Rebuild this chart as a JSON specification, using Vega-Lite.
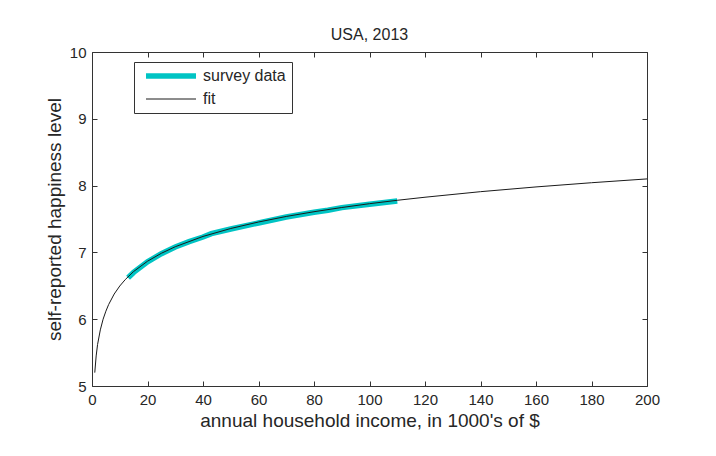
{
  "$schema": "https://vega.github.io/schema/vega-lite/v6.json",
  "autosize": "none",
  "width": 555,
  "height": 334,
  "padding": {"left": 92, "top": 52, "right": 69, "bottom": 70},
  "background": "white",
  "config": {
    "font": "Liberation Sans",
    "view": {"stroke": null},
    "axis": {"grid": false, "domainColor": "#333", "tickColor": "#333", "labelColor": "#262626", "titleColor": "#262626", "labelFont": "Liberation Sans", "titleFont": "Liberation Sans", "titleFontWeight": "normal", "labelFlush": false}
  },
  "title": {"text": "USA, 2013", "fontSize": 16, "fontWeight": "normal", "color": "#262626", "offset": 2, "font": "Liberation Sans"},
  "datasets": {
    "survey": [
      {"income": 13, "happiness": 6.62, "series": "survey data"},
      {"income": 15, "happiness": 6.70, "series": "survey data"},
      {"income": 20, "happiness": 6.86, "series": "survey data"},
      {"income": 25, "happiness": 6.98, "series": "survey data"},
      {"income": 30, "happiness": 7.08, "series": "survey data"},
      {"income": 35, "happiness": 7.16, "series": "survey data"},
      {"income": 40, "happiness": 7.23, "series": "survey data"},
      {"income": 43, "happiness": 7.28, "series": "survey data"},
      {"income": 50, "happiness": 7.35, "series": "survey data"},
      {"income": 60, "happiness": 7.44, "series": "survey data"},
      {"income": 70, "happiness": 7.53, "series": "survey data"},
      {"income": 80, "happiness": 7.60, "series": "survey data"},
      {"income": 85, "happiness": 7.63, "series": "survey data"},
      {"income": 90, "happiness": 7.67, "series": "survey data"},
      {"income": 100, "happiness": 7.72, "series": "survey data"},
      {"income": 110, "happiness": 7.77, "series": "survey data"}
    ],
    "fit": [
      {"income": 1, "happiness": 5.2, "series": "fit"},
      {"income": 1.5, "happiness": 5.45, "series": "fit"},
      {"income": 2, "happiness": 5.62, "series": "fit"},
      {"income": 3, "happiness": 5.84, "series": "fit"},
      {"income": 4, "happiness": 6.0, "series": "fit"},
      {"income": 5, "happiness": 6.12, "series": "fit"},
      {"income": 6, "happiness": 6.22, "series": "fit"},
      {"income": 8, "happiness": 6.377, "series": "fit"},
      {"income": 10, "happiness": 6.497, "series": "fit"},
      {"income": 12, "happiness": 6.594, "series": "fit"},
      {"income": 15, "happiness": 6.714, "series": "fit"},
      {"income": 20, "happiness": 6.868, "series": "fit"},
      {"income": 25, "happiness": 6.987, "series": "fit"},
      {"income": 30, "happiness": 7.085, "series": "fit"},
      {"income": 40, "happiness": 7.239, "series": "fit"},
      {"income": 50, "happiness": 7.358, "series": "fit"},
      {"income": 60, "happiness": 7.455, "series": "fit"},
      {"income": 70, "happiness": 7.538, "series": "fit"},
      {"income": 80, "happiness": 7.609, "series": "fit"},
      {"income": 90, "happiness": 7.672, "series": "fit"},
      {"income": 100, "happiness": 7.729, "series": "fit"},
      {"income": 110, "happiness": 7.78, "series": "fit"},
      {"income": 120, "happiness": 7.826, "series": "fit"},
      {"income": 140, "happiness": 7.909, "series": "fit"},
      {"income": 160, "happiness": 7.98, "series": "fit"},
      {"income": 180, "happiness": 8.043, "series": "fit"},
      {"income": 200, "happiness": 8.1, "series": "fit"}
    ]
  },
  "layer": [
    {
      "data": {"name": "survey"},
      "mark": {"type": "line", "strokeCap": "butt"},
      "encoding": {
        "x": {"field": "income", "type": "quantitative", "scale": {"domain": [0, 200], "nice": false, "zero": false},
          "axis": {"orient": "bottom", "values": [0,20,40,60,80,100,120,140,160,180,200], "tickSize": -5, "labelPadding": 11, "labelFontSize": 15, "titleFontSize": 19, "titlePadding": 4, "title": "annual household income, in 1000's of $"}},
        "y": {"field": "happiness", "type": "quantitative", "scale": {"domain": [5, 10], "nice": false, "zero": false},
          "axis": {"orient": "left", "values": [5,6,7,8,9,10], "tickSize": -5, "labelPadding": 11, "labelFontSize": 15, "titleFontSize": 19, "titlePadding": 5, "title": "self-reported happiness level"}},
        "color": {"field": "series", "type": "nominal", "scale": {"domain": ["survey data", "fit"], "range": ["#00c4c4", "#1a1a1a"]},
          "legend": {"title": null, "orient": "none", "legendX": 42, "legendY": 10, "symbolType": "stroke", "symbolSize": 2500, "symbolOffset": 3, "clipHeight": 16, "rowPadding": 7, "strokeColor": "#333", "fillColor": "white", "padding": 6, "labelFontSize": 16, "labelColor": "#262626", "labelOffset": 4}},
        "strokeWidth": {"field": "series", "type": "nominal", "scale": {"domain": ["survey data", "fit"], "range": [5.5, 1]}, "legend": null}
      }
    },
    {
      "data": {"name": "fit"},
      "mark": {"type": "line"},
      "encoding": {
        "x": {"field": "income", "type": "quantitative", "axis": {"orient": "top", "values": [0,20,40,60,80,100,120,140,160,180,200], "tickSize": -5, "labels": false, "title": null}},
        "y": {"field": "happiness", "type": "quantitative", "axis": {"orient": "right", "values": [5,6,7,8,9,10], "tickSize": -5, "labels": false, "title": null}},
        "color": {"field": "series", "type": "nominal"},
        "strokeWidth": {"field": "series", "type": "nominal", "legend": null}
      }
    }
  ],
  "resolve": {"axis": {"x": "independent", "y": "independent"}}
}
